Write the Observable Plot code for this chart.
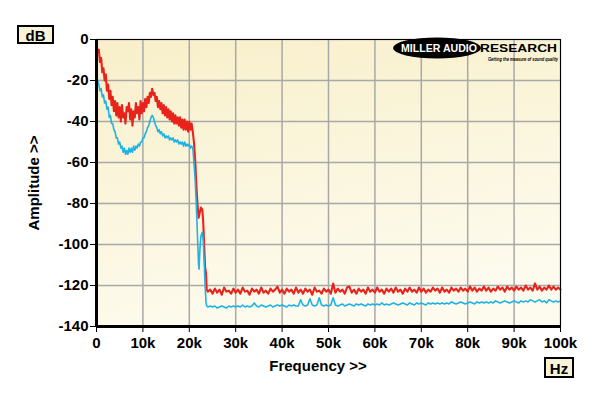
<!DOCTYPE html>
<html><head><meta charset="utf-8">
<script src="https://cdn.jsdelivr.net/npm/d3@7"></script>
<script src="https://cdn.jsdelivr.net/npm/@observablehq/plot@0.6"></script>
<style>
html,body{margin:0;padding:0;background:#fff;}
#chart{width:600px;height:396px;}
</style></head><body><div id="chart"></div>
<script>
// ---- axis ticks ----
const xTicks = [0, 10, 20, 30, 40, 50, 60, 70, 80, 90, 100]; // kHz
const xTickLabels = ["0", "10k", "20k", "30k", "40k", "50k", "60k", "70k", "80k", "90k", "100k"];
const yTicks = [0, -20, -40, -60, -80, -100, -120, -140];
const yTickLabels = ["0", "-20", "-40", "-60", "-80", "-100", "-120", "-140"];

// ---- segment A: 0 .. 20.75 kHz, every 0.25 kHz ----
const stepA = 0.25;
const redA = [
  -2, -6, -5, -11, -9, -16, -14, -20, -17, -25,
  -22, -29, -25, -32, -28, -35, -30, -37, -31, -38,
  -33, -40, -32, -38, -36, -41, -33, -35, -31, -39,
  -34, -42, -35, -38, -31, -36, -33, -39, -30, -36,
  -31, -35, -29, -33, -28, -31, -26, -28, -24, -27,
  -26, -30, -28, -33, -30, -34, -31, -36, -32, -37,
  -33, -38, -34, -39, -35, -40, -36, -41, -37, -41,
  -38, -42, -38, -43, -39, -44, -39, -44, -40, -45,
  -40, -44, -41, -45
];
const blueA = [
  -17, -20, -22, -25, -24, -28, -27, -31, -30, -34,
  -33, -38, -37, -41, -41, -44, -45, -48, -48, -51,
  -50, -53, -52, -55, -53, -56, -54, -56, -53, -55,
  -53, -55, -52, -54, -52, -53, -51, -52, -50, -50,
  -48, -48, -46, -45, -43, -42, -40, -38, -37, -38,
  -40, -42, -43, -45, -44, -46, -45, -47, -46, -48,
  -47, -48, -47, -49, -48, -49, -48, -50, -49, -50,
  -49, -51, -50, -51, -50, -52, -50, -52, -51, -52,
  -51, -53, -52, -53
];

// ---- transition (filter cut-off) ----
const transF    = [21.0, 21.25, 21.5, 21.75, 22.0, 22.1, 22.3, 22.5, 22.8, 23.0, 23.2, 23.4, 23.6, 23.75, 24.0];
const transRed  = [-50, -58, -70, -80, -87, -86, -84, -82, -83, -89, -100, -111, -114, -122, -123];
const transBlue = [-60, -68, -80, -95, -110, -112, -102, -96, -94, -98, -108, -120, -128, -130, -130.5];

// ---- floor: 24.5 .. 100 kHz, every 0.5 kHz ----
const startC = 24.5, stepC = 0.5;
const redFloor = [
  -122, -124, -121.5, -123.5, -122, -124.5, -121, -123, -122.5, -124,
  -121.5, -123.5, -122, -124, -121, -123, -122.5, -124.5, -121.5, -123,
  -122, -124, -121, -123.5, -122.5, -124, -121.5, -123, -122, -120.5,
  -123.5, -122, -124, -121.5, -123, -122, -124, -121, -123.5, -122,
  -124, -121.5, -123, -122, -124.5, -121, -123, -122.5, -124, -121.5,
  -123, -122, -124, -119, -123.5, -121.5, -123, -122, -124, -121,
  -120.5, -123.5, -122, -124, -121.5, -123, -122, -124, -121, -123,
  -122, -123.5, -121, -123, -122, -124, -121.5, -123, -121.5, -123.5,
  -121, -123, -122, -124, -121.5, -123, -121, -123, -122, -123.5,
  -121, -123, -121.5, -123.5, -122, -123, -121, -122.5, -121.5, -123.5,
  -121, -123, -122, -123.5, -121, -122.5, -121.5, -123, -121, -122.5,
  -121.5, -123, -120.5, -122.5, -121, -123, -121.5, -122.5, -120.5, -122.5,
  -121, -123, -121.5, -122.5, -120.5, -122, -121, -123, -120.5, -122,
  -121, -122.5, -120.5, -122, -121, -122.5, -120, -122, -121, -122.5,
  -119, -122, -120.5, -122.5, -121, -122, -120, -122, -120.5, -122,
  -121, -122
];
const blueFloor = [
  -130, -130.5, -130, -131, -130.5, -130, -130.5, -131, -130, -130.5,
  -130, -130.5, -130, -130.5, -129.5, -130.5, -130, -130.5, -130, -128.5,
  -130, -130.5, -129.5, -130, -130.5, -130, -129.5, -130.5, -130, -129.5,
  -130, -129.5, -130, -130.5, -129.5, -130, -129.5, -130, -130, -127,
  -129.5, -130, -129.5, -126.5, -129.5, -130, -129.5, -126, -129.5, -130,
  -129.5, -130, -129.5, -126, -129.5, -130, -129.5, -129, -130, -129.5,
  -129, -129.5, -130, -129, -129.5, -129, -129.5, -130, -129, -129.5,
  -129, -129.5, -129, -129.5, -128.5, -129.5, -129, -129.5, -129, -128.5,
  -129, -129.5, -129, -128.5, -129, -129.5, -128.5, -129, -129.5, -128.5,
  -129, -128.5, -129, -129.5, -128.5, -129, -128.5, -129, -128.5, -129,
  -128.5, -129, -128.5, -129, -128, -128.5, -129, -128.5, -128, -128.5,
  -129, -128.5, -128, -128.5, -129, -128, -128.5, -128, -128.5, -128,
  -128.5, -128, -128.5, -127.5, -128, -128.5, -128, -127.5, -128, -128.5,
  -128, -127.5, -128, -128.5, -127.5, -128, -127.5, -128, -127, -127.5,
  -128, -127.5, -127, -128, -127.5, -128.5, -127, -127.5, -128, -127.5,
  -128, -127.5
];

// ---- build series ----
function build(a, t, c) {
  const out = [];
  a.forEach((v, i) => out.push({f: i * stepA, db: v}));
  t.forEach((v, i) => out.push({f: transF[i], db: v}));
  c.forEach((v, i) => out.push({f: startC + i * stepC, db: v}));
  return out;
}
const redData = build(redA, transRed, redFloor);
const blueData = build(blueA, transBlue, blueFloor);

const RED = "#e8231b", BLUE = "#1eb2e6";

const plot = Plot.plot({
  width: 600, height: 396,
  marginLeft: 96, marginRight: 40, marginTop: 39, marginBottom: 70,
  style: {fontFamily: "'Liberation Sans', Arial, sans-serif", fontSize: "15px", fontWeight: "bold", background: "transparent", color: "#000"},
  x: {domain: [0, 100]},
  y: {domain: [-140, 0]},
  marks: [
    Plot.frame({fill: "url(#bgGrad)", stroke: null}),
    Plot.gridX(xTicks, {stroke: "#a8a8a8", strokeOpacity: 1, strokeWidth: 1.5}),
    Plot.gridY(yTicks, {stroke: "#a8a8a8", strokeOpacity: 1, strokeWidth: 1.5}),
    Plot.line(redData, {x: "f", y: "db", stroke: RED, strokeWidth: 2.1}),
    Plot.line(blueData, {x: "f", y: "db", stroke: BLUE, strokeWidth: 1.6}),
    Plot.frame({stroke: "#000", strokeWidth: 1}),
    Plot.ruleX([0], {stroke: "#000", strokeWidth: 3}),
    Plot.ruleY([-140], {stroke: "#000", strokeWidth: 3}),
    Plot.axisX({ticks: xTicks, tickSize: 6, tickPadding: 5, label: null,
      tickFormat: d => xTickLabels[xTicks.indexOf(d)]}),
    Plot.axisY({ticks: yTicks, tickSize: 6, tickPadding: 2, label: null,
      tickFormat: d => yTickLabels[yTicks.indexOf(d)]})
  ]
});
document.getElementById("chart").appendChild(plot);

const svg = d3.select(plot);
const defs = svg.insert("defs", ":first-child");
const g = defs.append("linearGradient").attr("id", "bgGrad")
  .attr("x1", 0).attr("y1", 0).attr("x2", 0.3).attr("y2", 1);
g.append("stop").attr("offset", "0%").attr("stop-color", "#f8efc9");
g.append("stop").attr("offset", "100%").attr("stop-color", "#fdfbee");

const font = "'Liberation Sans', Arial, sans-serif";
function txt(parent, x, y, s, size, anchor) {
  return parent.append("text").attr("x", x).attr("y", y).attr("text-anchor", anchor)
    .attr("font-family", font).attr("font-weight", "bold").attr("font-size", size).text(s);
}
// unit boxes
function box(x, y, w, h, label, tx, ty) {
  svg.append("rect").attr("x", x).attr("y", y).attr("width", w).attr("height", h)
    .attr("fill", "#f8f2d8").attr("stroke", "#000").attr("stroke-width", 2);
  txt(svg, tx, ty, label, 15, "middle");
}
box(18, 26, 35, 17, "dB", 35.5, 40.5);
box(545, 358, 28, 19, "Hz", 559, 373.5);

// axis titles
svg.append("text").attr("transform", "translate(39,183) rotate(-90)").attr("text-anchor", "middle")
  .attr("font-family", font).attr("font-weight", "bold").attr("font-size", 15).text("Amplitude >>");
txt(svg, 318, 371, "Frequency >>", 15, "middle");

// logo
const logo = svg.append("g");
logo.append("ellipse").attr("cx", 437).attr("cy", 48).attr("rx", 44).attr("ry", 10.5).attr("fill", "#000");
txt(logo, 401, 51.5, "MILLER AUDIO", 11, "start").attr("fill", "#fff")
  .attr("textLength", 76).attr("lengthAdjust", "spacingAndGlyphs");
txt(logo, 480, 52, "RESEARCH", 11.5, "start").attr("fill", "#000")
  .attr("textLength", 77).attr("lengthAdjust", "spacingAndGlyphs");
txt(logo, 488, 61, "Getting the measure of sound quality", 5, "start").attr("fill", "#000")
  .attr("font-style", "italic").attr("textLength", 70).attr("lengthAdjust", "spacingAndGlyphs");
</script>
</body></html>
